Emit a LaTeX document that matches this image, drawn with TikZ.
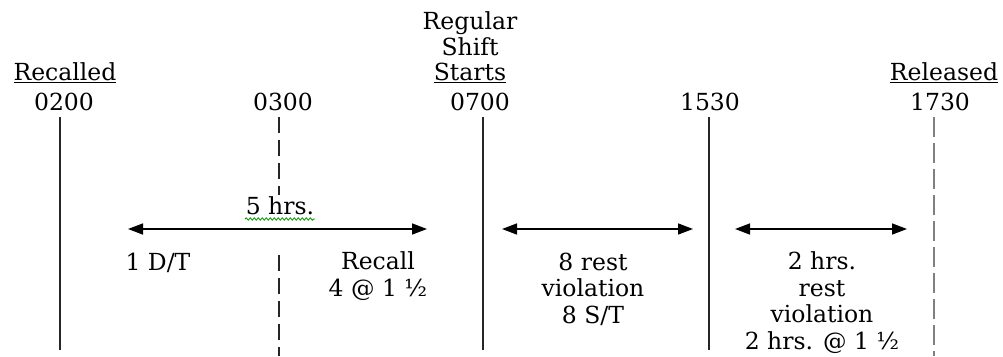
\documentclass[tikz,border=0pt]{standalone}
\usepackage{fontspec}
\setmainfont{DejaVu Serif}
\usetikzlibrary{arrows.meta,decorations.pathmorphing}
\begin{document}
\begin{tikzpicture}[x=1pt,y=-1pt,
  lbl/.style={inner sep=0pt,anchor=base,font=\fontsize{23.5}{26.5}\selectfont,align=center},
  vsolid/.style={line width=1.8pt,black!85},
  vdash/.style={line width=1.8pt,black!85,dash pattern=on 16pt off 7pt},
  vgray/.style={line width=1.8pt,black!50,dash pattern=on 20pt off 6pt},
  span/.style={line width=1.5pt,{Triangle[length=15pt,width=11pt]}-{Triangle[length=15pt,width=11pt]}}]
\useasboundingbox (0,0) rectangle (1003,356);
% header labels
\node[lbl] (recalled) at (65,80) {\underline{Recalled}};
\node[lbl] (t0200) at (64,110) {0200};
\node[lbl] (t0300) at (283,110) {0300};
\node[lbl] (regular) at (470,29) {Regular};
\node[lbl] (shift) at (470,55) {Shift};
\node[lbl] (starts) at (470,80) {\underline{Starts}};
\node[lbl] (t0700) at (480,110) {0700};
\node[lbl] (t1530) at (710,110) {1530};
\node[lbl] (released) at (944,80) {\underline{Released}};
\node[lbl] (t1730) at (940,110) {1730};
% vertical lines
\coordinate (a1) at (60,117); \coordinate (a2) at (60,350);
\coordinate (b1) at (279,117); \coordinate (b2) at (279,195);
\coordinate (b3) at (279,255); \coordinate (b4) at (279,356);
\coordinate (c1) at (483,117); \coordinate (c2) at (483,350);
\coordinate (d1) at (709,117); \coordinate (d2) at (709,350);
\coordinate (e1) at (934,117); \coordinate (e2) at (934,356);
\draw[vsolid] (a1) -- (a2);
\draw[vdash] (b1) -- (b2);
\draw[vdash] (b3) -- (b4);
\draw[vsolid] (c1) -- (c2);
\draw[vsolid] (d1) -- (d2);
\draw[vgray] (e1) -- (e2);
% spans
\coordinate (s1a) at (128,229); \coordinate (s1b) at (427,229);
\coordinate (s2a) at (502,229); \coordinate (s2b) at (693,229);
\coordinate (s3a) at (735,229); \coordinate (s3b) at (907,229);
\draw[span] (s1a) -- (s1b);
\draw[span] (s2a) -- (s2b);
\draw[span] (s3a) -- (s3b);
% labels
\node[lbl] (fivehrs) at (280,214) {5 hrs.};
\coordinate (w1) at (245,219); \coordinate (w2) at (315,219);
\draw[green!60!black,line width=0.8pt,decorate,decoration={snake,amplitude=1.2pt,segment length=4pt}] (w1) -- (w2);
\node[lbl] (dt) at (158,270) {1 D/T};
\node[lbl] (recall) at (378,296) {Recall\\4 @ 1 ½};
\node[lbl] (rest8) at (593,323) {8 rest\\violation\\8 S/T};
\node[lbl] (rest2) at (822,349) {2 hrs.\\rest\\violation\\2 hrs. @ 1 ½};
\end{tikzpicture}
\end{document}
